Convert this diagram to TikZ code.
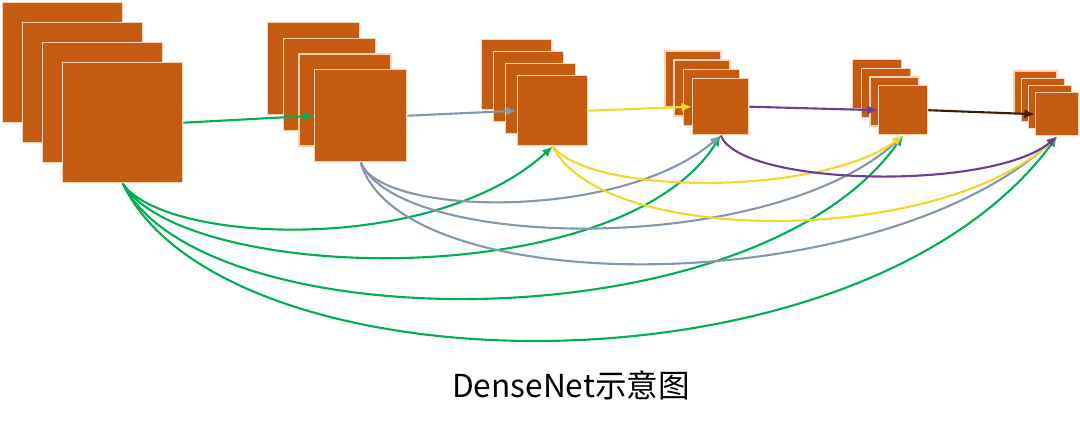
\documentclass[tikz,border=0pt]{standalone}
\usepackage{fontspec}
\usepackage{tikz}
\usepackage{xcolor}
\usetikzlibrary{arrows.meta, positioning}
\newfontfamily\cjk{Noto Sans CJK SC}
\definecolor{mapfill}{HTML}{C55A11}
\definecolor{mapedge}{HTML}{FAD3B4}
\definecolor{linkgreen}{HTML}{00B050}
\definecolor{linkblue}{HTML}{8496B0}
\definecolor{linkyellow}{HTML}{F2D62A}
\definecolor{linkpurple}{HTML}{6A3D9A}
\definecolor{linkdark}{HTML}{3D1E0E}

\begin{document}
\begin{tikzpicture}[x=0.1mm, y=-0.1mm,
  fmap/.style={draw=mapedge, fill=mapfill, line width=0.4pt, inner sep=0pt, anchor=north west},
  link/.style={-{Latex[length=3pt,width=2.6pt]}, line width=0.6pt}]
\useasboundingbox (0,0) rectangle (1080,423);
% feature maps, drawn back to front
\foreach \n/\x/\y/\s/\d in {1/62/62/120/20, 2/314/69/92/15.7, 3/517/75/70/12, 4/692/78/56/9.3, 5/878/85/49/8.7, 6/1035/92/43/7.2}
  \foreach \i in {3,2,1,0}
    \node [fmap, minimum size=\s*0.1mm] (m\n-\i) at (\x-\i*\d, \y-\i*\d) {};
% dense connections
\draw [link, linkgreen] (m1-0.south) .. controls +(40,60) and +(-120,110) .. (m3-0.south);
\draw [link, linkgreen] (m1-0.south) .. controls +(60,100) and +(-100,160) .. (m4-0.south);
\draw [link, linkgreen] (m1-0.south) .. controls +(80,158) and +(-150,211) .. (m5-0.south);
\draw [link, linkgreen] (m1-0.south) .. controls +(100,210) and +(-200,270) .. (m6-0.south);
\draw [link, linkblue] (m2-0.south) .. controls +(20,54) and +(-100,86) .. (m4-0.south);
\draw [link, linkblue] (m2-0.south) .. controls +(40,89) and +(-132,121) .. (m5-0.south);
\draw [link, linkblue] (m2-0.south) .. controls +(40,139) and +(-180,165) .. (m6-0.south);
\draw [link, linkyellow] (m3-0.south) .. controls +(40,50) and +(-80,60) .. (m5-0.south);
\draw [link, linkyellow] (m3-0.south) .. controls +(50,100) and +(-120,110) .. (m6-0.south);
\draw [link, linkpurple] (m4-0.south) .. controls +(20,51) and +(-66,55) .. (m6-0.south);
% layer to layer
\draw [link, linkgreen] (m1-0.east) -- (m2-0.west);
\draw [link, linkblue] (m2-0.east) -- (m3-0.west);
\draw [link, linkyellow] (m3-0.east) -- (m4-0.west);
\draw [link, linkpurple] (m4-0.east) -- (m5-0.west);
\draw [link, linkdark] (m5-0.east) -- (m6-0.west);
\node (title) at (571,385) {\cjk\fontsize{9pt}{11pt}\selectfont DenseNet示意图};
\end{tikzpicture}
\end{document}
